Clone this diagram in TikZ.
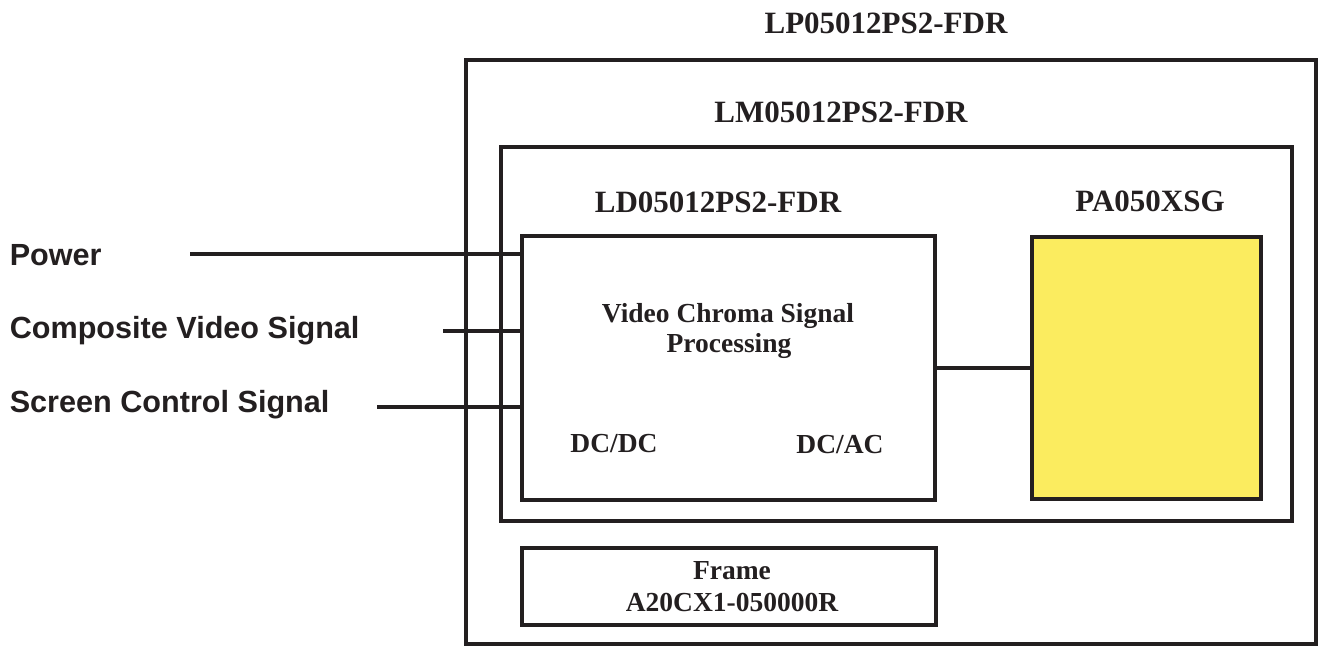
\documentclass[tikz,border=0pt]{standalone}
\usepackage{fontspec}
\setmainfont{Liberation Serif}
\setsansfont{Liberation Sans}
\definecolor{ink}{RGB}{35,31,32}
\definecolor{panel}{RGB}{251,236,95}

\begin{document}
\begin{tikzpicture}[x=1pt,y=-1pt,line width=3.6pt,
    box/.style={draw=ink,anchor=north west,inner sep=0pt,outer sep=0pt},
    modtitle/.style={font=\fontsize{31}{36}\selectfont\bfseries,text=ink,anchor=base,inner sep=0pt},
    blocktext/.style={font=\fontsize{27.5}{32}\selectfont\bfseries,text=ink,anchor=base,inner sep=0pt},
    sigtext/.style={font=\fontsize{30.6}{36}\selectfont\sffamily\bfseries,text=ink,anchor=base west,inner sep=0pt}]
    \useasboundingbox (0,0) rectangle (1318,646);

    % module outlines
    \node[box,minimum width=850pt,minimum height=584pt] (lp) at (466,60) {};
    \node[box,minimum width=791pt,minimum height=374pt] (lm) at (501,147) {};
    \node[box,minimum width=413pt,minimum height=264pt] (ld) at (522,236) {};
    \node[box,fill=panel,minimum width=229pt,minimum height=262pt] (pa) at (1032,237) {};
    \node[box,minimum width=414pt,minimum height=77pt] (frame) at (522,548) {};

    \node[modtitle] (lptext) at (886,33) {LP05012PS2-FDR};
    \node[modtitle] (lmtext) at (841,122) {LM05012PS2-FDR};
    \node[modtitle] (ldtext) at (718,212) {LD05012PS2-FDR};
    \node[modtitle] (patext) at (1150,211) {PA050XSG};

    \node[blocktext] (vcsp) at (728,322) {Video Chroma Signal};
    \node[blocktext] (proc) at (729,352) {Processing};
    \node[blocktext] (dcdc) at (614,452) {DC/DC};
    \node[blocktext] (dcac) at (840,453) {DC/AC};
    \node[blocktext] (frtext) at (732,579) {Frame};
    \node[blocktext] (frcode) at (732,611) {A20CX1-050000R};

    % input signals
    \node[sigtext] (pwrtext) at (8,265) {Power};
    \node[sigtext] (cvstext) at (8,338) {Composite Video Signal};
    \node[sigtext] (scstext) at (8,412) {Screen Control Signal};

    \foreach \nm/\xs/\ys in {pwr/190/254, cvs/443/331, scs/377/407}{
        \coordinate (\nm) at (\xs,\ys);
        \draw[ink] (\nm) -- (\nm -| ld.west);
    }
    \draw[ink] (ld.east) -- (pa.west);
\end{tikzpicture}
\end{document}
